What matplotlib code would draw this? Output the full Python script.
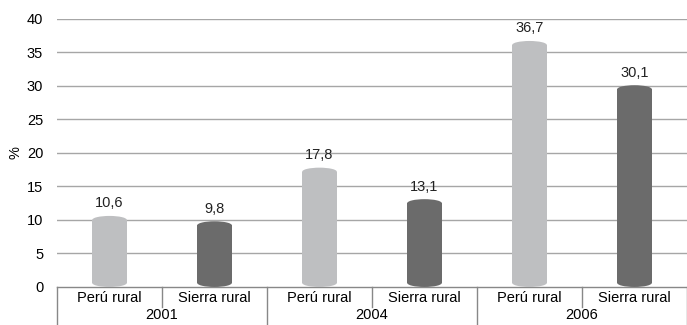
import matplotlib
matplotlib.use("Agg")
import matplotlib.pyplot as plt
from matplotlib.patches import Rectangle, Ellipse
from matplotlib.lines import Line2D
from matplotlib import font_manager

years = ["2001", "2004", "2006"]
regions = ["Perú rural", "Sierra rural"]
peru_rural = [10.6, 17.8, 36.7]
sierra_rural = [9.8, 13.1, 30.1]
yticks = [0, 5, 10, 15, 20, 25, 30, 35, 40]

names = {f.name for f in font_manager.fontManager.ttflist}
family = ["Liberation Sans Narrow", "Liberation Sans", "DejaVu Sans"]
family = [f for f in family if f in names] or ["DejaVu Sans"]
plt.rcParams["font.family"] = family

light = "#bebfc1"
dark = "#6b6b6b"
grid = "#a6a6a6"

fig = plt.figure(figsize=(6.87, 3.25), dpi=100)
ax = fig.add_axes([0.083, 0.117, 0.917, 0.825])
ax.set_xlim(0, 6)
ax.set_ylim(0, 40)

for s in ["top", "right", "left"]:
    ax.spines[s].set_visible(False)
ax.spines["bottom"].set_color("#888888")
ax.spines["bottom"].set_linewidth(1.0)

ax.set_yticks(yticks)
ax.set_yticklabels([str(t) for t in yticks], fontsize=10.5)
ax.tick_params(axis="y", length=0, pad=10)
ax.set_xticks([])
for t in yticks[1:]:
    ax.axhline(t, color=grid, lw=1.0, zorder=0)
ax.set_ylabel("%", fontsize=10.5, labelpad=3)

# cylinder bars
bw = 0.33
cap = 1.2  # ellipse height in data units
values = []
colors = []
for i in range(len(years)):
    values += [peru_rural[i], sierra_rural[i]]
    colors += [light, dark]

for k, (v, c) in enumerate(zip(values, colors)):
    xc = k + 0.5
    ax.add_patch(Rectangle((xc - bw / 2, cap / 2), bw, v - cap, facecolor=c,
                           edgecolor="none", zorder=2))
    ax.add_patch(Ellipse((xc, v - cap / 2), bw, cap, facecolor=c,
                         edgecolor="none", zorder=3))
    ax.add_patch(Ellipse((xc, cap / 2), bw, cap, facecolor=c,
                         edgecolor="none", zorder=3))
    ax.annotate(f"{v:.1f}".replace(".", ","), (xc, v), xytext=(0, 4),
                textcoords="offset points", ha="center", va="bottom",
                fontsize=10.5, color="#222222")

# two-level category axis
tr = ax.get_xaxis_transform()
for k in range(6):
    ax.text(k + 0.5, -0.04, regions[k % 2], transform=tr, ha="center",
            va="center", fontsize=10.5, clip_on=False)
for i, y in enumerate(years):
    ax.text(2 * i + 1, -0.105, y, transform=tr, ha="center", va="center",
            fontsize=10.5, clip_on=False)
for k in range(0, 7):
    if k % 2 == 0:
        y0 = -0.2
    else:
        y0 = -0.075
    ax.add_line(Line2D([k, k], [0, y0], transform=tr, color="#888888",
                       lw=1.0, clip_on=False))

fig.savefig("out.png", dpi=100)
